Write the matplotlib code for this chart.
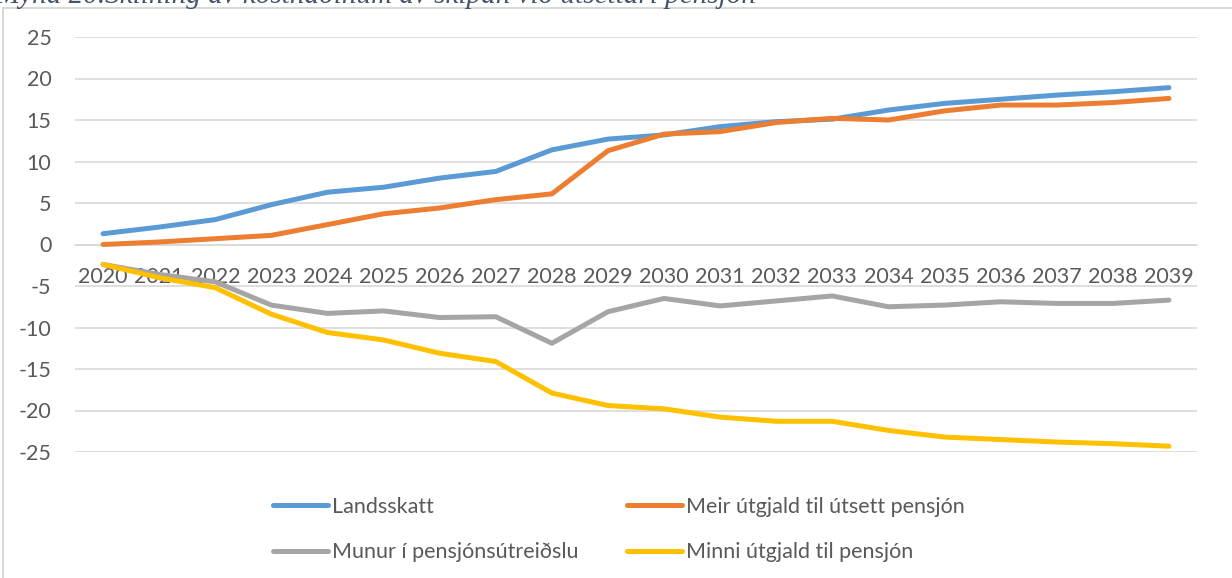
import matplotlib
matplotlib.use("Agg")
import matplotlib.pyplot as plt
from matplotlib.patches import Rectangle

# years on the category axis
years = list(range(2020, 2040))

# series values (mió. kr.)
landsskatt = [1.3, 2.1, 3.0, 4.8, 6.3, 6.9, 8.0, 8.8, 11.4, 12.7,
              13.2, 14.2, 14.8, 15.1, 16.2, 17.0, 17.5, 18.0, 18.4, 18.9]
meir_utgjald = [0.0, 0.3, 0.7, 1.1, 2.4, 3.7, 4.4, 5.4, 6.1, 11.3,
                13.3, 13.6, 14.7, 15.2, 15.0, 16.1, 16.8, 16.8, 17.1, 17.6]
munur = [-2.4, -3.6, -4.5, -7.3, -8.3, -8.0, -8.8, -8.7, -11.9, -8.1,
         -6.5, -7.4, -6.8, -6.2, -7.5, -7.3, -6.9, -7.1, -7.1, -6.7]
minni_utgjald = [-2.4, -4.0, -5.2, -8.4, -10.6, -11.5, -13.1, -14.1, -17.9, -19.4,
                 -19.8, -20.8, -21.3, -21.3, -22.4, -23.2, -23.5, -23.8, -24.0, -24.3]

labels = ["Landsskatt", "Meir útgjald til útsett pensjón",
          "Munur í pensjónsútreiðslu", "Minni útgjald til pensjón"]
colors = ["#5B9BD5", "#ED7D31", "#A5A5A5", "#FFC000"]

title = "Mynd 20.Skilning av kostnaðinum av skipan við útsettari pensjón"

plt.rcParams['font.family'] = ['Lato', 'DejaVu Sans']
plt.rcParams['axes.unicode_minus'] = False
text_col = "#595959"
fsize = 15.5

W, H = 1232, 578
fig = plt.figure(figsize=(W / 100, H / 100), dpi=100)
ax = fig.add_axes([75 / W, 1 - 452 / H, 1122 / W, 415 / H])

x = list(range(len(years)))
lines = []
for vals, lab, col in zip([landsskatt, meir_utgjald, munur, minni_utgjald], labels, colors):
    ln, = ax.plot(x, vals, color=col, lw=3.6, solid_capstyle='round',
                  solid_joinstyle='round', label=lab, zorder=3)
    lines.append(ln)

ax.set_xlim(-0.5, len(years) - 0.5)
ax.set_ylim(-25, 25)
ax.set_yticks(range(-25, 26, 5))
ax.set_xticks(x)
ax.set_xticklabels([str(y) for y in years])
ax.grid(axis='y', color="#D9D9D9", lw=1.2, zorder=0)
ax.grid(axis='x', visible=False)

for s in ['top', 'right', 'left']:
    ax.spines[s].set_visible(False)
ax.spines['bottom'].set_position(('data', 0))
ax.spines['bottom'].set_color("#D9D9D9")
ax.spines['bottom'].set_linewidth(1.2)
ax.tick_params(axis='x', length=0, pad=16.5, labelsize=fsize, colors=text_col)
ax.tick_params(axis='y', length=0, pad=17, labelsize=fsize, colors=text_col)

# legend: one legend per column so the columns sit where they should
leg_kw = dict(loc='upper left', frameon=False, fontsize=fsize, handlelength=2.55,
              handletextpad=0.2, labelspacing=1.18, borderpad=0, borderaxespad=0,
              labelcolor=text_col)
leg1 = fig.legend([lines[0], lines[2]], [labels[0], labels[2]],
                  bbox_to_anchor=(273 / W, 1 - 497 / H), **leg_kw)
leg2 = fig.legend([lines[1], lines[3]], [labels[1], labels[3]],
                  bbox_to_anchor=(627 / W, 1 - 497 / H), **leg_kw)
for leg in (leg1, leg2):
    for h in leg.legend_handles:
        h.set_linewidth(3.6)
        h.set_solid_capstyle('round')

# chart frame
fig.patches.append(Rectangle((3 / W, -0.05), 1.2, 1 - 8 / H + 0.05,
                             transform=fig.transFigure, fill=False,
                             edgecolor="#D9D9D9", lw=1.5))

fig.text(-0.004, 1 - 3 / H, title, family='Liberation Serif', style='italic',
         fontsize=21, color="#44546A", va='baseline', ha='left')

fig.savefig("out.png", dpi=100)
